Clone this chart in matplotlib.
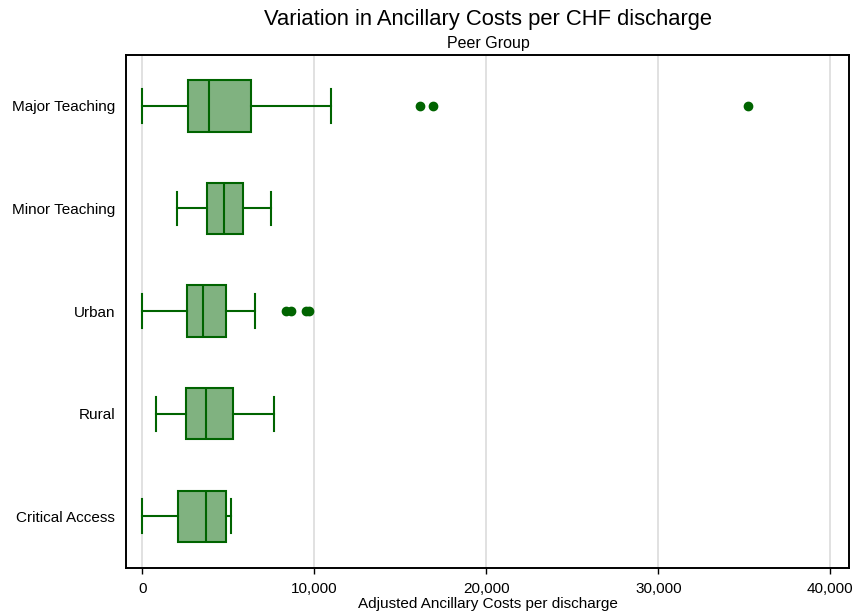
import matplotlib
matplotlib.use("Agg")
import matplotlib.pyplot as plt
from matplotlib.ticker import FuncFormatter

plt.rcParams['font.family'] = ['Liberation Sans', 'DejaVu Sans']

# Peer groups, listed top to bottom
groups = ["Major Teaching", "Minor Teaching", "Urban", "Rural", "Critical Access"]

# Box summary statistics (adjusted ancillary cost per discharge)
whisker_low = [0, 2040, 0, 780, 0]
q1 = [2670, 3780, 2600, 2560, 2090]
median = [3880, 4730, 3530, 3690, 3690]
q3 = [6300, 5840, 4850, 5270, 4870]
whisker_high = [10950, 7460, 6570, 7660, 5140]
outliers = [
    [16150, 16920, 35200],
    [],
    [8340, 8630, 9520, 9710],
    [],
    [],
]

x_ticks = [0, 10000, 20000, 30000, 40000]

edge = "#006400"
fill = "#80b280"

fig = plt.figure(figsize=(8.59, 6.14), dpi=100)
ax = fig.add_axes([0.1467, 0.0754, 0.8417, 0.8358])

stats = []
for i, g in enumerate(groups):
    stats.append({
        "label": g,
        "whislo": whisker_low[i],
        "q1": q1[i],
        "med": median[i],
        "q3": q3[i],
        "whishi": whisker_high[i],
        "fliers": outliers[i],
    })

positions = list(range(len(groups), 0, -1))
ax.bxp(
    stats,
    positions=positions,
    vert=False,
    widths=0.5,
    patch_artist=True,
    showfliers=True,
    boxprops=dict(facecolor=fill, edgecolor=edge, linewidth=1.5),
    medianprops=dict(color=edge, linewidth=1.5),
    whiskerprops=dict(color=edge, linewidth=1.5),
    capprops=dict(color=edge, linewidth=1.5),
    capwidths=0.33,
    flierprops=dict(marker="o", markerfacecolor=edge, markeredgecolor=edge,
                    markersize=6, linestyle="none"),
    zorder=3,
)

ax.set_xlim(-950, 41090)
ax.set_ylim(0.5, len(groups) + 0.5)
ax.set_xticks(x_ticks)
ax.xaxis.set_major_formatter(FuncFormatter(lambda v, p: f"{int(v):,}"))
ax.set_yticks(positions)
ax.set_yticklabels(groups)
ax.tick_params(axis="y", length=0, pad=8, labelsize=11)
ax.tick_params(axis="x", length=4, width=1, pad=6, labelsize=11)
ax.grid(axis="x", color="#dcdcdc", linewidth=1.2, zorder=0)
ax.set_axisbelow(True)
for s in ax.spines.values():
    s.set_linewidth(1.4)

ax.set_xlabel("Adjusted Ancillary Costs per discharge", fontsize=11, labelpad=1)
fig.text(0.568, 0.968, "Variation in Ancillary Costs per CHF discharge",
         ha="center", va="center", fontsize=15.8)
fig.text(0.568, 0.929, "Peer Group", ha="center", va="center", fontsize=11.5)

fig.savefig("out.png", dpi=100)
